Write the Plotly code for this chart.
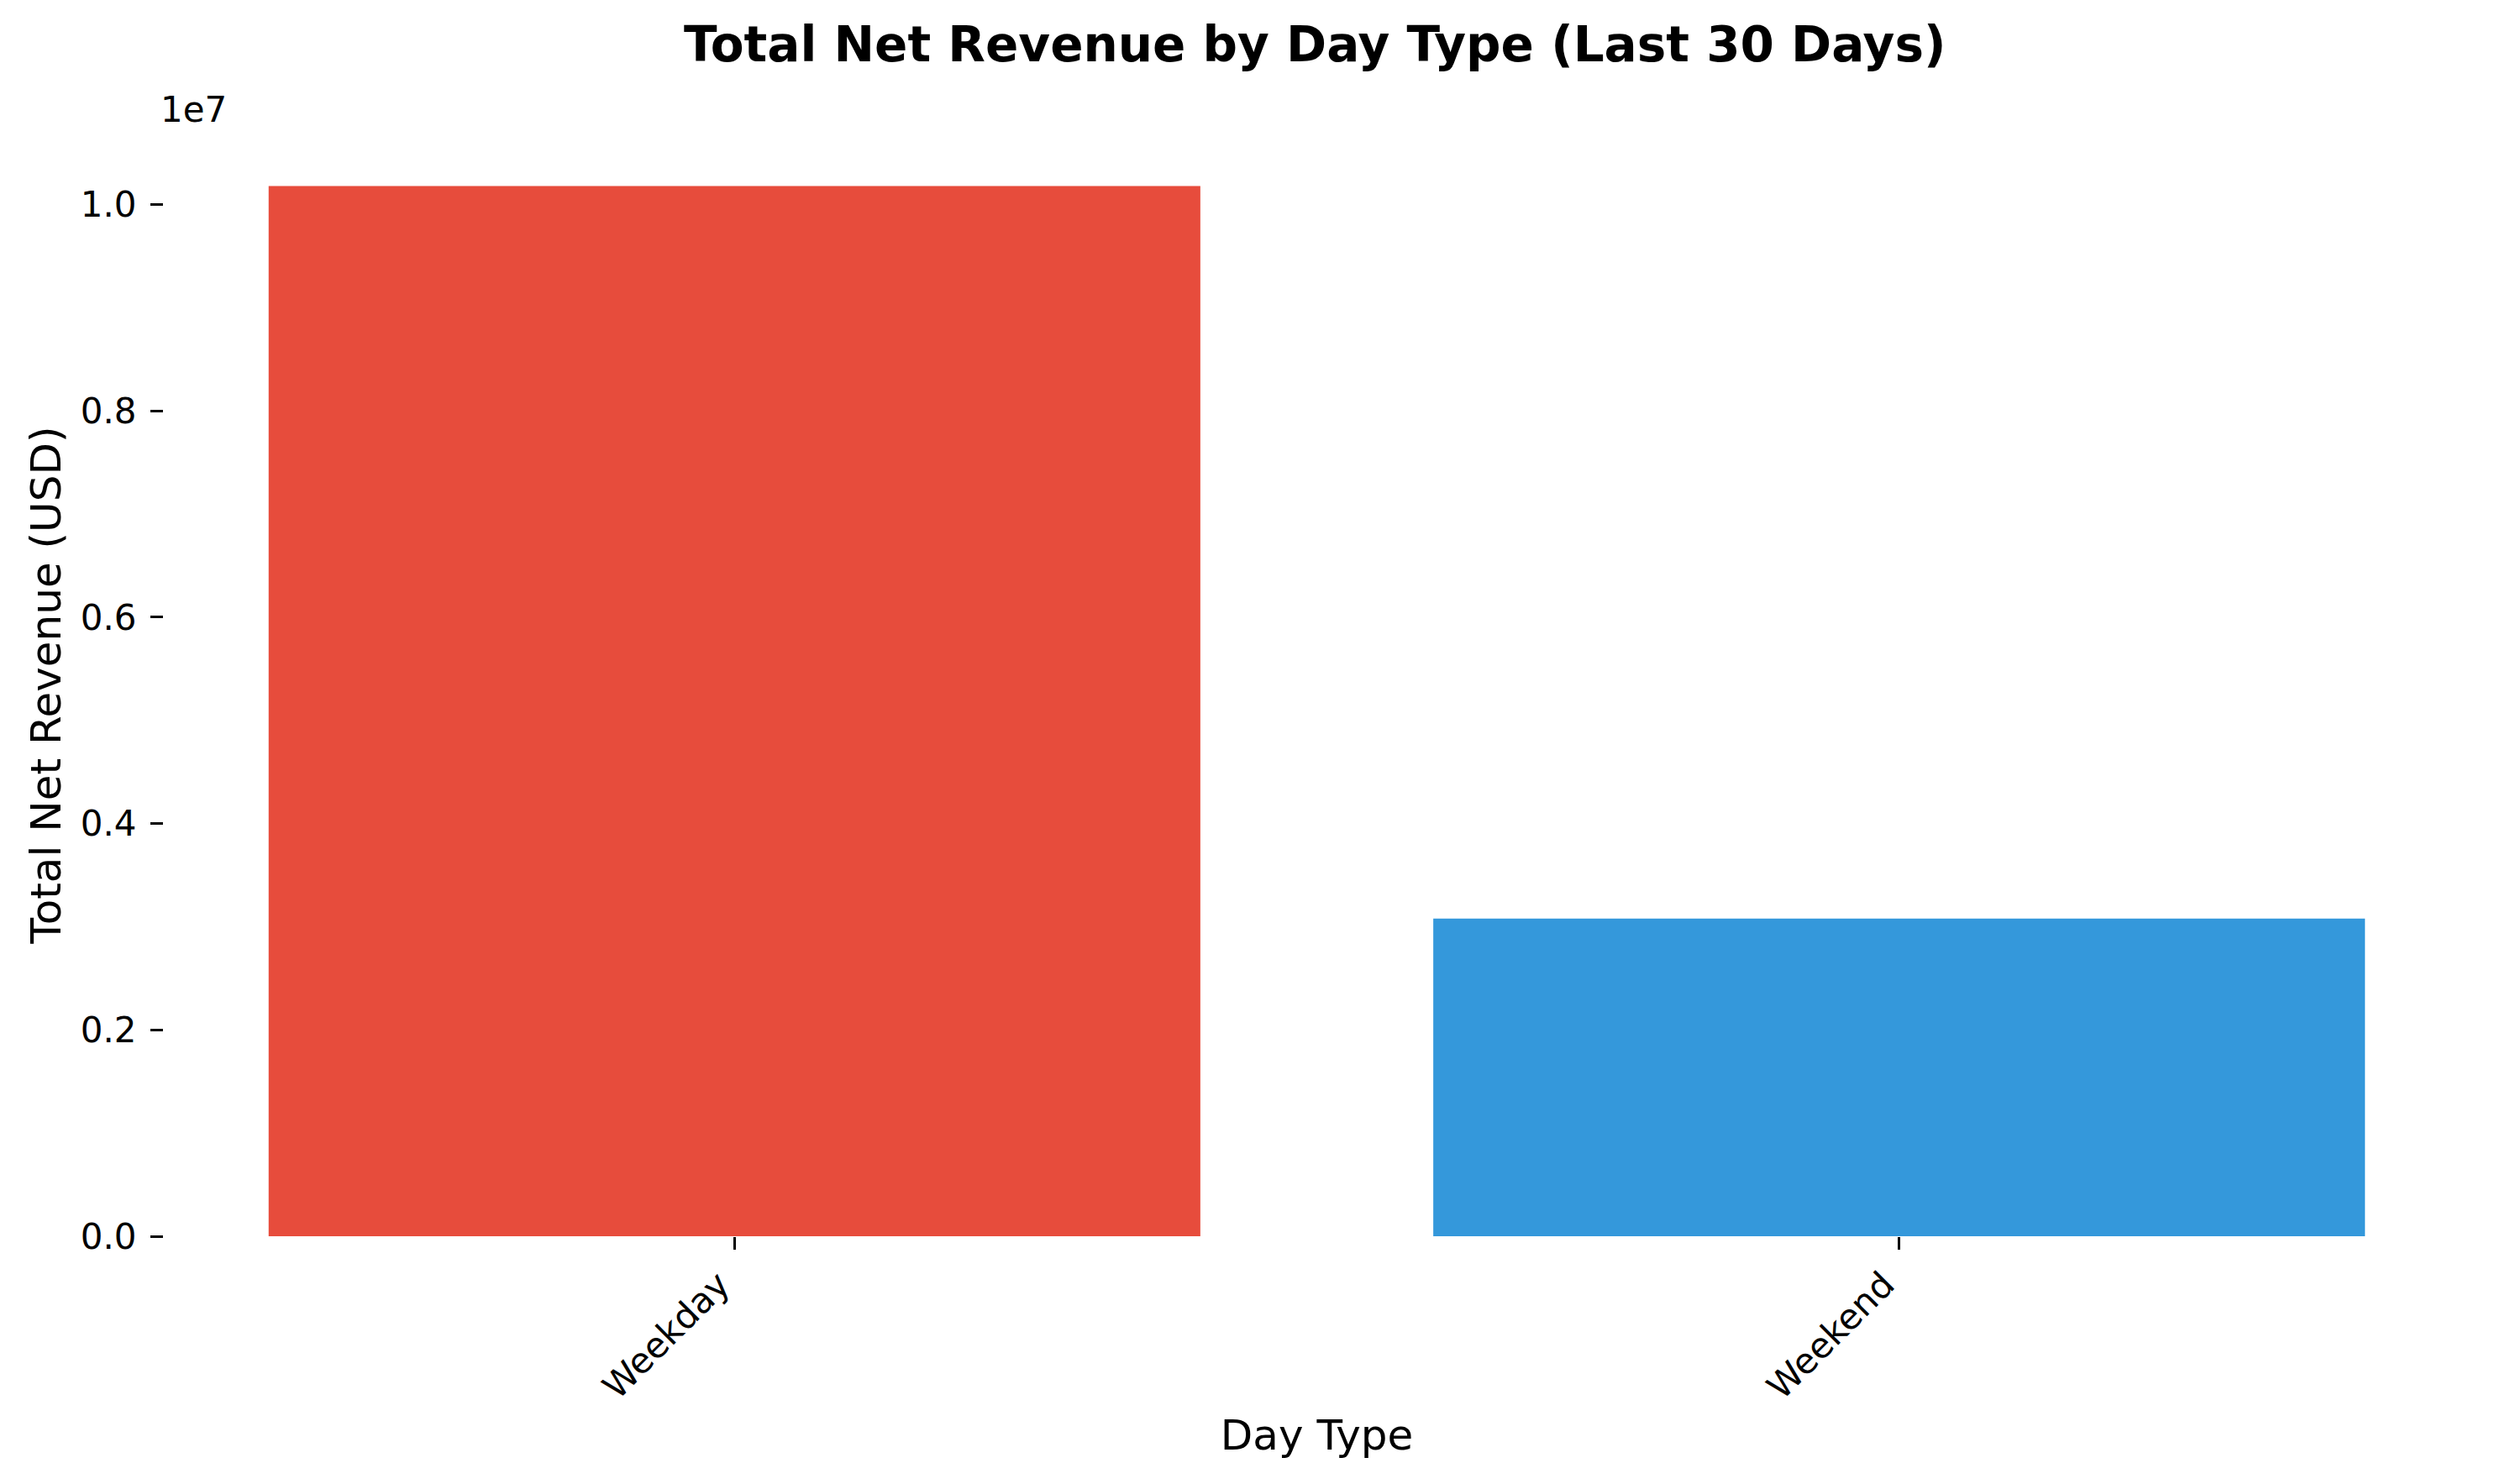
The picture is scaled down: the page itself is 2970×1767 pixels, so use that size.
import plotly.graph_objects as go

categories = ["Weekday", "Weekend"]
revenue = [10179000, 3078000]
colors = ["#e74c3c", "#3498db"]
ytick_vals = [0, 2e6, 4e6, 6e6, 8e6, 1e7]
ytick_text = ["0.0", "0.2", "0.4", "0.6", "0.8", "1.0"]

W, H = 2970, 1767
L, R, T, B = 195, 30, 159, 295
FONT = "DejaVu Sans"

fig = go.Figure(go.Bar(x=categories, y=revenue, marker=dict(color=colors, line=dict(width=0)), width=0.8))

fig.update_layout(
    width=W, height=H,
    margin=dict(l=L, r=R, t=T, b=B, autoexpand=False),
    paper_bgcolor="white", plot_bgcolor="white",
    font=dict(family=FONT, color="black", size=42),
    showlegend=False,
    title=dict(text="<b>Total Net Revenue by Day Type (Last 30 Days)</b>",
               x=0.527, xanchor="center", y=1 - 53 / H, yanchor="middle",
               font=dict(size=58, family=FONT, color="black")),
)
fig.update_xaxes(
    range=[-0.49, 1.49], showgrid=False, zeroline=False, showline=False,
    ticks="outside", ticklen=15, tickwidth=3, tickcolor="black",
    tickangle=-45, tickfont=dict(size=42), ticklabelshift=-18,
    title=dict(text="Day Type", font=dict(size=50), standoff=16),
)
fig.update_yaxes(
    range=[0, 10688000], showgrid=False, zeroline=False, showline=False,
    tickmode="array", tickvals=ytick_vals, ticktext=ytick_text,
    ticks="outside", ticklen=15, tickwidth=3, tickcolor="black",
    tickfont=dict(size=42), ticklabelstandoff=8,
    title=dict(text="Total Net Revenue (USD)", font=dict(size=50), standoff=7),
)
fig.add_annotation(text="1e7", xref="paper", yref="paper", x=0, y=1,
                   xanchor="left", yanchor="middle", xshift=-6, yshift=(T - 130),
                   showarrow=False, font=dict(size=42, family=FONT, color="black"))

fig.write_html("out.html", config={"displayModeBar": False},
               post_script="document.body.style.margin='0';")
